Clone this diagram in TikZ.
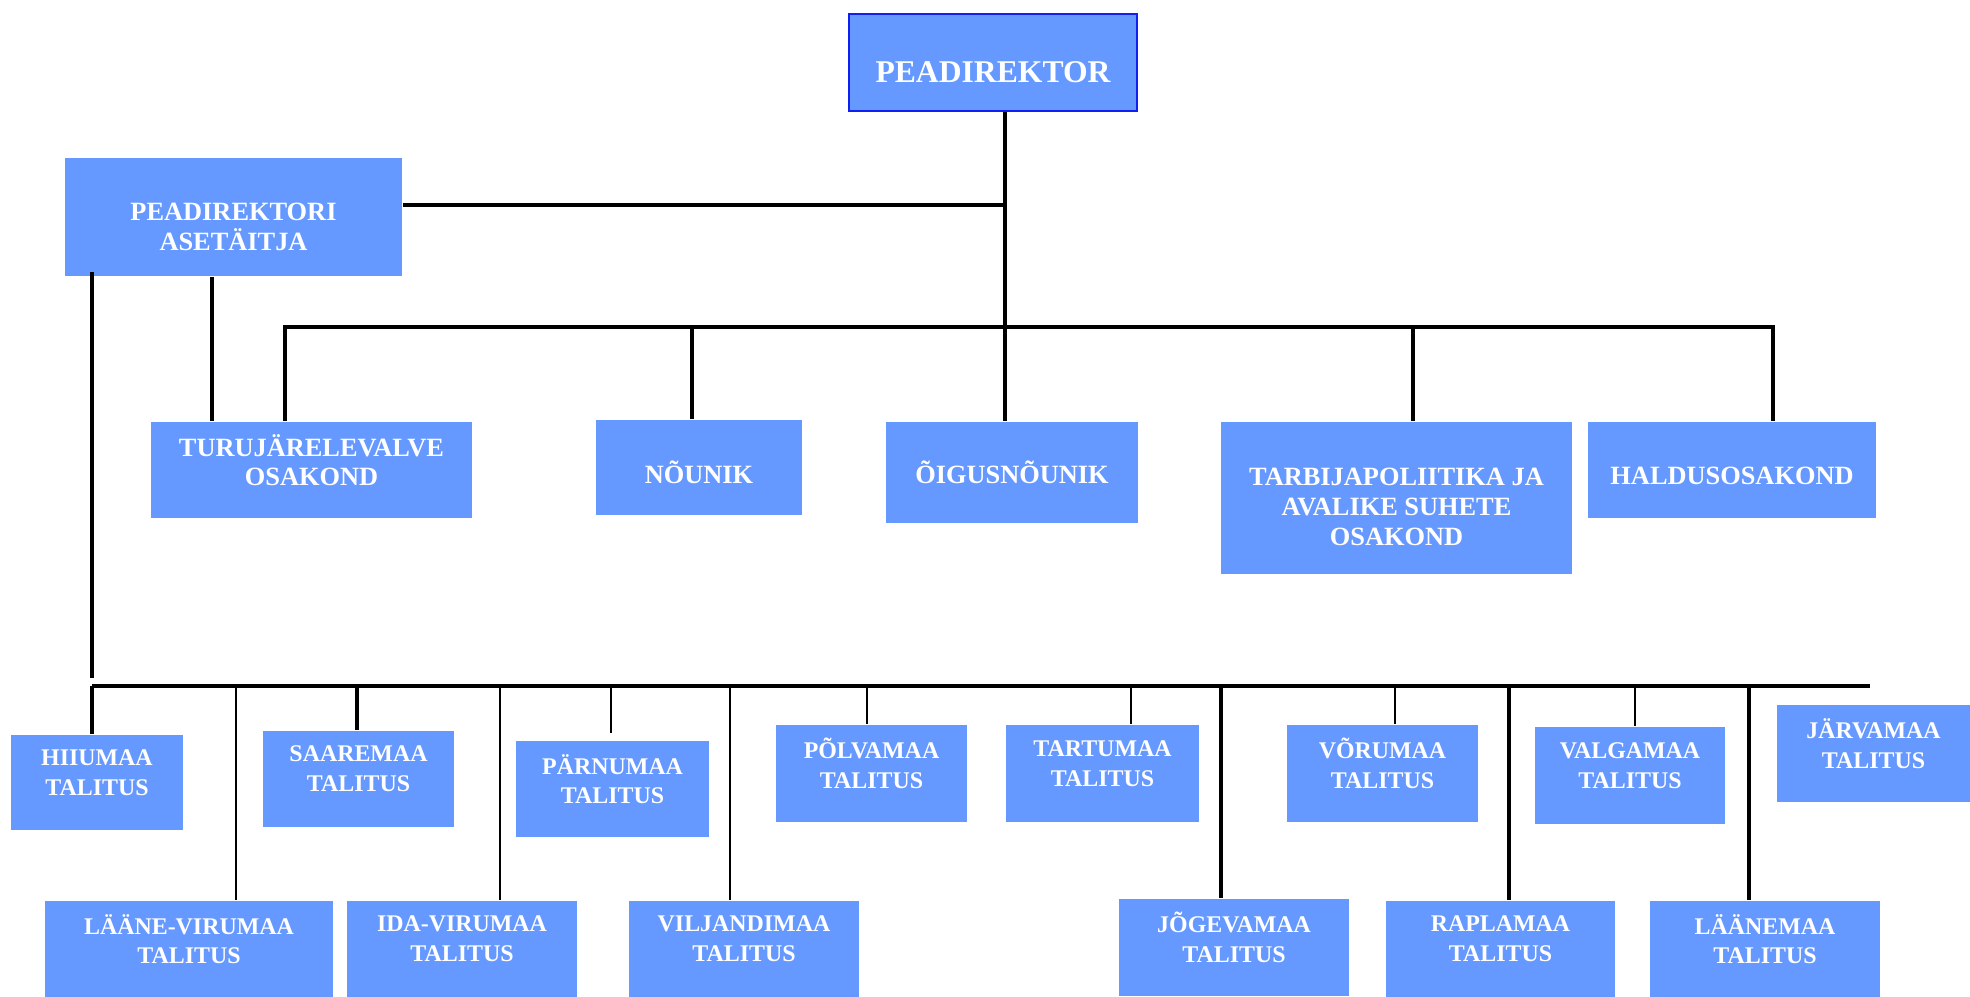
\documentclass[tikz,border=0pt]{standalone}
\usepackage{fontspec}
\setmainfont{Liberation Serif}
\usepackage{xcolor}
\usetikzlibrary{positioning}
\definecolor{boxblue}{HTML}{6699FF}
\definecolor{chiefblue}{HTML}{1020F0}

\begin{document}
\begin{tikzpicture}[
        box/.style={rectangle, fill=boxblue, text=white, inner sep=0pt, align=center, font=\bfseries\fontsize{7.5}{8.5}\selectfont},
        talitus/.style={box, minimum width=1.92cm, minimum height=0.96cm, text depth=0.2cm, font=\bfseries\fontsize{6.8}{8.5}\selectfont},
        widebox/.style={talitus, minimum width=2.3cm},
        link/.style={line width=1pt},
        drop/.style={line width=0.8pt},
        thin/.style={line width=0.55pt}
    ]
        \useasboundingbox (0,0) rectangle (19.70,-9.96);

        % Top of the tree
        \node (chief) [box, draw=chiefblue, line width=0.8pt, minimum width=2.88cm, minimum height=0.97cm, text height=0.41cm, font=\bfseries\fontsize{9}{10}\selectfont] at (9.93,-0.625) {PEADIREKTOR};
        \node (deputy) [box, minimum width=3.37cm, minimum height=1.18cm, text height=0.68cm] at (2.335,-2.17) {PEADIREKTORI\\ASETÄITJA};

        % Departments
        \node (market) [box, minimum width=3.21cm, minimum height=0.96cm, text depth=0.2cm] at (3.115,-4.70) {TURUJÄRELEVALVE\\OSAKOND};
        \node (advisor) [box, minimum width=2.06cm, minimum height=0.95cm, text height=0.33cm] at (6.99,-4.675) {NÕUNIK};
        \node (legal) [box, minimum width=2.52cm, minimum height=1.01cm] at (10.12,-4.725) {ÕIGUSNÕUNIK};
        \node (consumer) [box, minimum width=3.51cm, minimum height=1.52cm, text height=0.95cm] at (13.965,-4.98) {TARBIJAPOLIITIKA JA\\AVALIKE SUHETE\\OSAKOND};
        \node (admin) [box, minimum width=2.88cm, minimum height=0.96cm, text height=0.29cm] at (17.32,-4.70) {HALDUSOSAKOND};

        % County offices, upper row
        \node (hiiu) [talitus, minimum width=1.72cm, minimum height=0.95cm] at (0.97,-7.825) {HIIUMAA\\TALITUS};
        \node (saare) [talitus, minimum width=1.91cm] at (3.585,-7.79) {SAAREMAA\\TALITUS};
        \node (parnu) [talitus, minimum width=1.93cm] at (6.125,-7.89) {PÄRNUMAA\\TALITUS};
        \node (polva) [talitus, minimum width=1.91cm, minimum height=0.97cm] at (8.715,-7.735) {PÕLVAMAA\\TALITUS};
        \node (tartu) [talitus, minimum width=1.93cm, minimum height=0.97cm] at (11.025,-7.735) {TARTUMAA\\TALITUS};
        \node (voru) [talitus, minimum width=1.91cm, minimum height=0.97cm] at (13.825,-7.735) {VÕRUMAA\\TALITUS};
        \node (valga) [talitus, minimum width=1.90cm, minimum height=0.97cm] at (16.30,-7.755) {VALGAMAA\\TALITUS};
        \node (jarva) [talitus, minimum width=1.93cm, minimum height=0.97cm] at (18.735,-7.535) {JÄRVAMAA\\TALITUS};

        % County offices, lower row
        \node (laaneviru) [widebox, minimum width=2.88cm] at (1.89,-9.49) {LÄÄNE-VIRUMAA\\TALITUS};
        \node (idaviru) [widebox] at (4.62,-9.49) {IDA-VIRUMAA\\TALITUS};
        \node (viljandi) [widebox] at (7.44,-9.49) {VILJANDIMAA\\TALITUS};
        \node (jogeva) [widebox, minimum height=0.97cm] at (12.34,-9.475) {JÕGEVAMAA\\TALITUS};
        \node (rapla) [widebox, minimum width=2.29cm] at (15.005,-9.49) {RAPLAMAA\\TALITUS};
        \node (laane) [widebox] at (17.65,-9.49) {LÄÄNEMAA\\TALITUS};

        % Points on the bars
        \coordinate (trunk) at (10.05,-3.27);
        \coordinate (barL) at (2.85,-3.27);
        \coordinate (barR) at (17.73,-3.27);
        \coordinate (busL) at (0.92,-6.86);
        \coordinate (busR) at (18.70,-6.86);
        \coordinate (dLaaneviru) at (2.36,-6.86);
        \coordinate (dSaare) at (3.57,-6.86);
        \coordinate (dIdaviru) at (5.00,-6.86);
        \coordinate (dParnu) at (6.11,-6.86);
        \coordinate (dViljandi) at (7.30,-6.86);
        \coordinate (dPolva) at (8.67,-6.86);
        \coordinate (dTartu) at (11.31,-6.86);
        \coordinate (dJogeva) at (12.21,-6.86);
        \coordinate (dVoru) at (13.95,-6.86);
        \coordinate (dRapla) at (15.09,-6.86);
        \coordinate (dValga) at (16.35,-6.86);
        \coordinate (dLaane) at (17.49,-6.86);

        % Director and deputy
        \draw [link] (chief.south -| trunk) -- (legal.north -| trunk);
        \draw [link] ([yshift=0.12cm]deputy.east) -- ([yshift=0.12cm]deputy.east -| trunk);

        % Department bar
        \draw [link] (market.north -| barL) |- (barR) -- (admin.north -| barR);
        \draw [link] ([xshift=-0.07cm]advisor.north) -- ([xshift=-0.07cm]advisor.north |- trunk);
        \draw [link] ([xshift=0.165cm]consumer.north) -- ([xshift=0.165cm]consumer.north |- trunk);
        \draw [link] ([xshift=-0.215cm]deputy.south) -- ([xshift=-0.215cm]deputy.south |- market.north);

        % County bus
        \draw [link] ([yshift=0.05cm]deputy.south -| busL) -- ([yshift=0.08cm]busL);
        \draw [link] (busL) -- (busR);
        \draw [link] (busL) -- (busL |- hiiu.north);
        \draw [link] (dSaare) -- (dSaare |- saare.north);
        \draw [drop] (dParnu) -- ([yshift=0.07cm]dParnu |- parnu.north);
        \draw [drop] (dPolva) -- (dPolva |- polva.north);
        \draw [drop] (dTartu) -- (dTartu |- tartu.north);
        \draw [drop] (dVoru) -- (dVoru |- voru.north);
        \draw [drop] (dValga) -- (dValga |- valga.north);
        \draw [thin] (dLaaneviru) -- (dLaaneviru |- laaneviru.north);
        \draw [thin] (dIdaviru) -- (dIdaviru |- idaviru.north);
        \draw [thin] (dViljandi) -- (dViljandi |- viljandi.north);
        \draw [link] (dJogeva) -- (dJogeva |- jogeva.north);
        \draw [link] (dRapla) -- (dRapla |- rapla.north);
        \draw [link] (dLaane) -- (dLaane |- laane.north);
    \end{tikzpicture}
\end{document}
